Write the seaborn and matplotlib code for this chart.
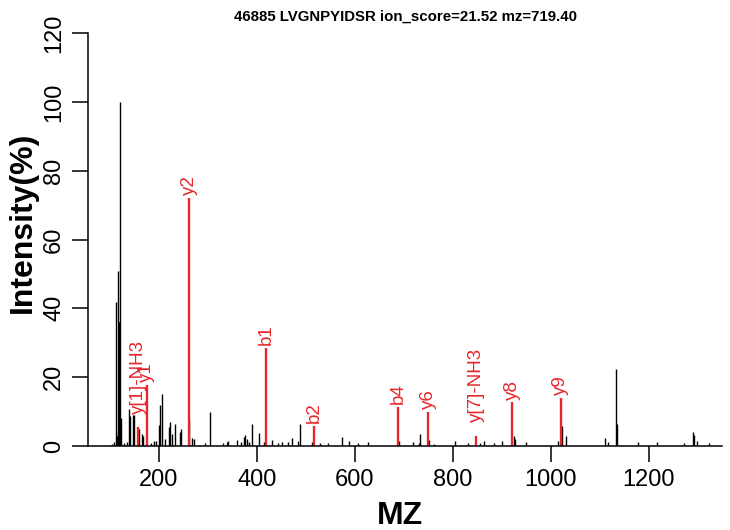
import matplotlib
matplotlib.use("Agg")
import matplotlib.pyplot as plt
import seaborn as sns
import pandas as pd

title = "46885 LVGNPYIDSR ion_score=21.52 mz=719.40"

# unmatched peaks (black)
peak_mz = [104.6, 108.7, 113.1, 114.1, 115.1, 116.1, 117.1, 118.1, 119.1, 121.1,
           122.1, 129.1, 134.0, 138.7, 141.3, 146.2, 148.9, 159.7, 164.6, 166.6,
           183.6, 190.4, 193.2, 200.0, 202.7, 205.5, 212.3, 219.8, 222.5, 227.2,
           232.7, 242.9, 245.6, 260.7, 268.1, 271.5, 294.0, 304.2, 330.2, 338.4,
           341.6, 358.8, 367.0, 373.7, 376.4, 379.2, 384.5, 389.4, 404.4, 414.6,
           431.6, 443.9, 450.8, 464.3, 471.2, 483.5, 488.8, 512.0, 529.0, 546.0,
           573.4, 588.3, 607.4, 626.5, 690.5, 718.5, 731.0, 733.4, 751.8, 762.0,
           805.6, 830.9, 856.0, 862.9, 884.7, 901.6, 925.5, 926.8, 949.0, 1016.0,
           1022.2, 1031.5, 1111.5, 1117.0, 1133.4, 1135.4, 1177.5, 1216.4, 1273.0, 1290.0,
           1292.7, 1298.0, 1322.6]
peak_int = [0.6, 1.2, 41.9, 3.0, 2.5, 4.0, 50.8, 36.0, 36.0, 100.0,
            8.0, 1.0, 1.2, 10.7, 8.8, 9.0, 9.0, 5.0, 3.6, 3.0,
            1.0, 1.5, 1.5, 6.1, 11.9, 15.0, 2.0, 5.4, 7.0, 3.5,
            6.5, 4.0, 5.0, 7.8, 2.4, 2.0, 1.0, 9.9, 1.0, 1.2,
            1.5, 1.8, 1.2, 2.7, 3.2, 2.0, 1.2, 6.3, 3.9, 1.2,
            1.7, 0.8, 1.3, 1.2, 2.4, 1.5, 6.3, 1.3, 0.8, 0.8,
            2.7, 1.5, 0.8, 1.2, 1.4, 1.3, 0.8, 3.4, 1.7, 0.6,
            1.5, 0.8, 0.8, 1.4, 0.8, 1.4, 2.9, 2.0, 1.2, 1.5,
            5.8, 2.9, 2.4, 1.2, 22.3, 6.3, 1.2, 1.2, 1.0, 4.2,
            3.2, 1.5, 0.8]

# matched fragment ions (red)
ion_names = ["y[1]-NH3", "y1", "y2", "b1", "b2", "b4", "y6", "y[7]-NH3", "y8", "y9"]
ion_mz = [158.09, 175.12, 262.15, 418.27, 517.34, 688.45, 750.38, 847.40, 921.44, 1020.51]
ion_int = [5.4, 17.7, 72.0, 28.5, 5.9, 11.4, 10.0, 2.9, 12.7, 14.0]

x_ticks = [200, 400, 600, 800, 1000, 1200]
y_ticks = [0, 20, 40, 60, 80, 100, 120]

peaks = pd.DataFrame({"mz": peak_mz, "intensity": peak_int})
ions = pd.DataFrame({"name": ion_names, "mz": ion_mz, "intensity": ion_int})

sns.set_style("ticks", {"axes.edgecolor": "black", "text.color": "black",
                        "xtick.color": "black", "ytick.color": "black"})
plt.rcParams["font.family"] = ["Liberation Sans", "DejaVu Sans"]
red = "#e8262b"

fig = plt.figure(figsize=(7.3, 5.3), dpi=100)
ax = fig.add_axes([88 / 730, 84 / 530, 634 / 730, 413 / 530])

ax.vlines(peaks["mz"], 0, peaks["intensity"], color="black", linewidth=1.0)
ax.vlines(ions["mz"], 0, ions["intensity"], color=red, linewidth=1.7)
for _, r in ions.iterrows():
    # neutral-loss labels sit a little higher, as in the original
    off = 10 if "-" in r["name"] else 2
    ax.annotate(r["name"], (r["mz"], r["intensity"]), xytext=(0, off),
                textcoords="offset points", rotation=90, ha="center", va="bottom",
                color=red, fontsize=13.5)

ax.set_xlim(55, 1350)
ax.set_ylim(0, 120)
ax.set_xticks(x_ticks)
ax.set_yticks(y_ticks)
ax.tick_params(axis="both", direction="out", length=11.5, width=1.1,
               labelsize=17, pad=5, colors="black")
plt.setp(ax.get_yticklabels(), rotation=90, va="center")
sns.despine(ax=ax)
for s in ["left", "bottom"]:
    ax.spines[s].set_linewidth(1.1)
    ax.spines[s].set_color("black")

ax.set_title(title, fontweight="bold", fontsize=10.8, pad=9, color="black")
fig.text(23 / 730, 1 - 222 / 530, "Intensity(%)", rotation=90, ha="center",
         va="center", fontweight="bold", fontsize=23, color="black")
fig.text(400 / 730, 1 - 516 / 530, "MZ", ha="center", va="center",
         fontweight="bold", fontsize=23, color="black")

fig.savefig("out.png", dpi=100)
